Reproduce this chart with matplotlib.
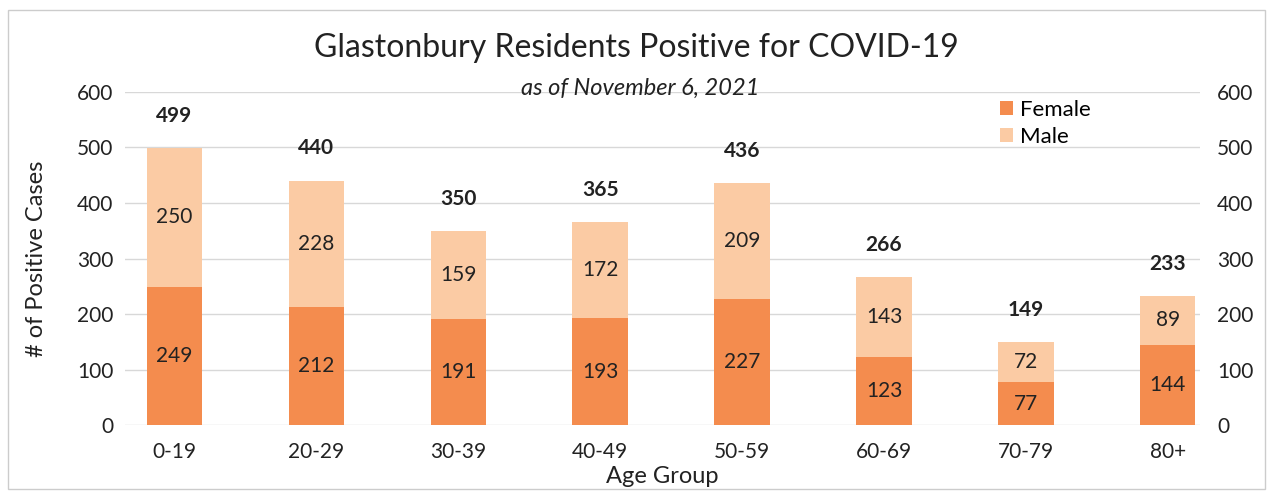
import matplotlib.pyplot as plt
import numpy as np

plt.rcParams['font.family'] = ['Lato', 'DejaVu Sans']

# datos
grupos = ['0-19', '20-29', '30-39', '40-49', '50-59', '60-69', '70-79', '80+']
mujeres = [249, 212, 191, 193, 227, 123, 77, 144]
hombres = [250, 228, 159, 172, 209, 143, 72, 89]
totales = [499, 440, 350, 365, 436, 266, 149, 233]

col_f = '#F48C4E'
col_m = '#FBCBA4'

fig = plt.figure(figsize=(12.73, 4.91), dpi=100)
ax = fig.add_axes([0.098, 0.134, 0.845, 0.679])
x = np.arange(len(grupos))

ax.bar(x, mujeres, width=0.39, color=col_f, label='Female', zorder=3)
ax.bar(x, hombres, width=0.39, bottom=mujeres, color=col_m, label='Male', zorder=3)

for i in range(len(grupos)):
    ax.text(x[i], mujeres[i] / 2, str(mujeres[i]), ha='center', va='center', fontsize=15, color='#222222', zorder=4)
    ax.text(x[i], mujeres[i] + hombres[i] / 2, str(hombres[i]), ha='center', va='center', fontsize=15, color='#222222', zorder=4)
    ax.text(x[i], totales[i] + 58, str(totales[i]), ha='center', va='center', fontsize=15, fontweight='bold', color='#222222')

ax.set_xlim(-0.35, 7.23)
ax.set_ylim(0, 600)
ax.set_yticks(range(0, 601, 100))
ax.set_xticks(x)
ax.set_xticklabels(grupos)
ax.yaxis.grid(True, color='#d8d8d8', linewidth=1)
ax.set_axisbelow(True)
for s in ax.spines.values():
    s.set_visible(False)
ax.tick_params(axis='y', length=0, labelsize=15, colors='#222222', pad=8)
ax.tick_params(axis='x', length=0, labelsize=15, colors='#222222', pad=12)
ax.set_ylabel('# of Positive Cases', fontsize=17, color='#222222', labelpad=22)
ax.set_xlabel('Age Group', fontsize=17, color='#222222', labelpad=3)

ax2 = ax.twinx()
ax2.set_ylim(0, 600)
ax2.set_yticks(range(0, 601, 100))
for s in ax2.spines.values():
    s.set_visible(False)
ax2.tick_params(length=0, labelsize=15, colors='#222222', pad=12)

ax.legend(loc='upper left', bbox_to_anchor=(0.795, 1.035), frameon=False, fontsize=16,
          handlelength=0.6, handleheight=0.6, handletextpad=0.3, labelspacing=0.3)

fig.text(0.5, 0.902, 'Glastonbury Residents Positive for COVID-19', ha='center', va='center', fontsize=23, color='#222222')
fig.text(0.503, 0.82, 'as of November 6, 2021', ha='center', va='center', fontsize=17, style='italic', color='#222222')

borde = plt.Rectangle((0.006, 0.005), 0.988, 0.975, transform=fig.transFigure, fill=False, edgecolor='#cccccc', linewidth=1)
fig.patches.append(borde)

plt.savefig('out.png', dpi=100)
